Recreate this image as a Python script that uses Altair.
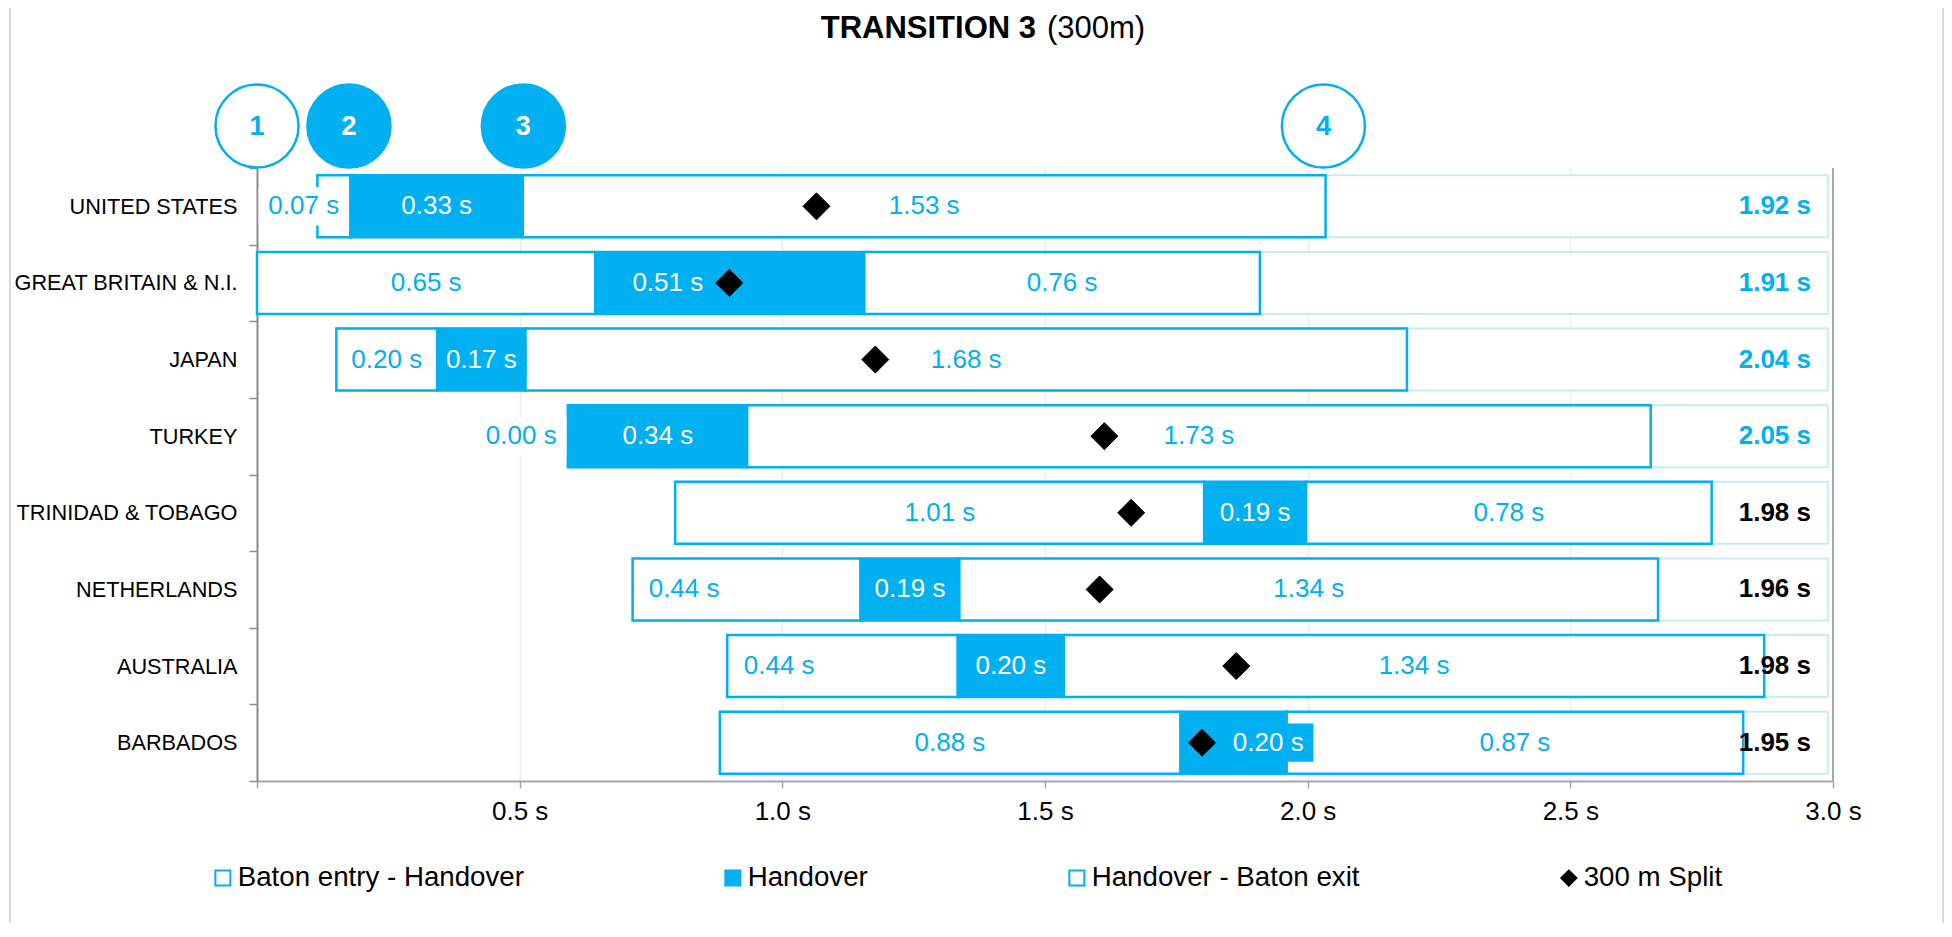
import altair as alt
import pandas as pd

BLUE = "#00b0f0"
FONT = "Liberation Sans"

# ---------------- data ----------------
countries = ["UNITED STATES", "GREAT BRITAIN & N.I.", "JAPAN", "TURKEY",
             "TRINIDAD & TOBAGO", "NETHERLANDS", "AUSTRALIA", "BARBADOS"]
# positions on the time axis (s)
baton_entry = [0.115, 0.000, 0.151, 0.592, 0.796, 0.715, 0.895, 0.881]
handover_start = [0.178, 0.644, 0.343, 0.592, 1.803, 1.149, 1.334, 1.758]
handover_end = [0.506, 1.156, 0.511, 0.933, 1.997, 1.337, 1.536, 1.960]
baton_exit = [2.034, 1.909, 2.189, 2.653, 2.769, 2.667, 2.869, 2.829]
split_300m = [1.065, 0.899, 1.177, 1.613, 1.664, 1.604, 1.864, 1.799]
# printed durations (s)
entry_handover_s = [0.07, 0.65, 0.20, 0.00, 1.01, 0.44, 0.44, 0.88]
handover_s = [0.33, 0.51, 0.17, 0.34, 0.19, 0.19, 0.20, 0.20]
handover_exit_s = [1.53, 0.76, 1.68, 1.73, 0.78, 1.34, 1.34, 0.87]
total_s = [1.92, 1.91, 2.04, 2.05, 1.98, 1.96, 1.98, 1.95]
# where the duration labels sit (s)
entry_label_at = [0.089, 0.322, 0.247, 0.503, 1.300, 0.813, 0.994, 1.319]
handover_label_at = [0.342, 0.782, 0.427, 0.763, 1.900, 1.243, 1.435, 1.925]
highlighted = countries[:4]
zone_end = 2.99
markers = ["1", "2", "3", "4"]
marker_at = [0.0, 0.175, 0.507, 2.03]
marker_filled = [False, True, True, False]
legend_labels = ["Baton entry - Handover", "Handover", "Handover - Baton exit", "300 m Split"]
x_ticks = [0, 0.5, 1.0, 1.5, 2.0, 2.5, 3.0]
title_main = "TRANSITION 3"
title_note = "(300m)"

# ---------------- tables ----------------
seg_rows, lab_rows, box_rows = [], [], []
box_half = 0.086
for i, c in enumerate(countries):
    seg_rows.append(dict(country=c, seg=legend_labels[0], x0=baton_entry[i], x1=handover_start[i]))
    seg_rows.append(dict(country=c, seg=legend_labels[1], x0=handover_start[i], x1=handover_end[i]))
    seg_rows.append(dict(country=c, seg=legend_labels[2], x0=handover_end[i], x1=baton_exit[i]))
    lab_rows.append(dict(country=c, x=entry_label_at[i], text=f"{entry_handover_s[i]:.2f} s", kind="entry"))
    lab_rows.append(dict(country=c, x=handover_label_at[i], text=f"{handover_s[i]:.2f} s", kind="handover"))
    lab_rows.append(dict(country=c, x=(handover_end[i] + baton_exit[i]) / 2,
                         text=f"{handover_exit_s[i]:.2f} s", kind="exit"))
    box_rows.append(dict(country=c, x0=entry_label_at[i] - box_half, x1=entry_label_at[i] + box_half, kind="entry"))
    box_rows.append(dict(country=c, x0=handover_label_at[i] - box_half, x1=handover_label_at[i] + box_half,
                         kind="handover"))

seg_df = pd.DataFrame(seg_rows)
lab_df = pd.DataFrame(lab_rows)
box_df = pd.DataFrame(box_rows)
zone_df = pd.DataFrame({"country": countries, "x0": baton_entry, "x1": [zone_end] * len(countries)})
split_df = pd.DataFrame({"country": countries, "x": split_300m, "seg": [legend_labels[3]] * len(countries)})
tot_df = pd.DataFrame({"country": countries, "tx": [x_ticks[-1]] * len(countries),
                       "text": [f"{v:.2f} s" for v in total_s],
                       "hl": [c in highlighted for c in countries]})
mark_df = pd.DataFrame({"x": marker_at, "text": markers, "filled": marker_filled})
edge_df = pd.DataFrame({"tx": [x_ticks[-1]]})

# ---------------- scales / axes ----------------
W, H = 1576, 613
xscale = alt.Scale(domain=[x_ticks[0], x_ticks[-1]], nice=False, zero=False)
yscale = alt.Scale(domain=countries, paddingInner=0, paddingOuter=0)
xaxis = alt.Axis(values=x_ticks, title=None, grid=True, gridColor="#ececec", gridWidth=1.5,
                 labelExpr="datum.value == 0 ? '' : format(datum.value, '.1f') + ' s'",
                 domainColor="#a6a6a6", domainWidth=2, tickColor="#a6a6a6", tickWidth=1.5,
                 tickSize=7, labelPadding=10, labelFontSize=26, labelColor="black", labelFlush=False)
yaxis = alt.Axis(title=None, grid=False, tickBand="extent", domainColor="#8c8c8c", domainWidth=2,
                 tickColor="#8c8c8c", tickWidth=1.5, tickSize=8, labelPadding=12,
                 labelFontSize=21.7, labelColor="black", labelLimit=400)


def X(field):
    return alt.X(f"{field}:Q", scale=xscale, axis=xaxis)


def X2(field):
    return alt.X2(f"{field}:Q")


def Y():
    return alt.Y("country:N", scale=yscale, axis=yaxis)


legend = alt.Legend(title=None, orient="none", legendX=-48, legendY=696, direction="horizontal",
                    columnPadding=195, labelFontSize=27.7, labelColor="black", labelOffset=1,
                    symbolSize=225, symbolStrokeWidth=2, padding=0, labelLimit=800)
fill_scale = alt.Scale(domain=legend_labels, range=["white", BLUE, "white", "black"])
stroke_scale = alt.Scale(domain=legend_labels, range=[BLUE, BLUE, BLUE, "black"])
shape_scale = alt.Scale(domain=legend_labels, range=["square", "square", "square", "diamond"])

# ---------------- layers ----------------
frame = alt.Chart(pd.DataFrame({"k": [0]})).mark_rect(
    fill="white", fillOpacity=0, stroke="#d9d9d9", strokeWidth=2
).encode(x=alt.value(-247), x2=alt.value(W + 110), y=alt.value(-161), y2=alt.value(H + 200))

zones = alt.Chart(zone_df).mark_bar(
    fill="white", stroke="#c8ebfa", strokeWidth=2, height=alt.RelativeBandSize(0.81)
).encode(x=X("x0"), x2=X2("x1"), y=Y())

bars = alt.Chart(seg_df).mark_bar(strokeWidth=2.5, height=alt.RelativeBandSize(0.81)).encode(
    x=X("x0"), x2=X2("x1"), y=Y(),
    fill=alt.Fill("seg:N", scale=fill_scale, legend=legend, title=None),
    stroke=alt.Stroke("seg:N", scale=stroke_scale, legend=legend, title=None),
)

boxes = alt.Chart(box_df).mark_bar(height=alt.RelativeBandSize(0.5), strokeWidth=0).encode(
    x=X("x0"), x2=X2("x1"), y=Y(),
    color=alt.condition("datum.kind == 'handover'", alt.value(BLUE), alt.value("white")),
)

diamonds = alt.Chart(split_df).mark_point(size=730, filled=True, opacity=1, strokeWidth=1).encode(
    x=X("x"), y=Y(),
    fill=alt.Fill("seg:N", scale=fill_scale, legend=legend, title=None),
    stroke=alt.Stroke("seg:N", scale=stroke_scale, legend=legend, title=None),
    shape=alt.Shape("seg:N", scale=shape_scale, legend=legend, title=None),
)

labels = alt.Chart(lab_df).mark_text(font=FONT, fontSize=26, baseline="middle", align="center").encode(
    x=X("x"), y=Y(), text="text:N",
    color=alt.condition("datum.kind == 'handover'", alt.value("white"), alt.value(BLUE)),
)

totals = alt.Chart(tot_df).mark_text(font=FONT, fontSize=26, fontWeight="bold", align="right",
                                     baseline="middle", dx=-22).encode(
    x=X("tx"), y=Y(), text="text:N",
    color=alt.condition("datum.hl", alt.value(BLUE), alt.value("black")),
)

edge = alt.Chart(edge_df).mark_rule(color="#a6a6a6", strokeWidth=2).encode(x=X("tx"))

circles = alt.Chart(mark_df).mark_point(shape="circle", size=6900, opacity=1, stroke=BLUE,
                                        strokeWidth=2.5).encode(
    x=X("x"), y=alt.value(-42),
    fill=alt.condition("datum.filled", alt.value(BLUE), alt.value("white")),
)
circle_nums = alt.Chart(mark_df).mark_text(font=FONT, fontSize=27, fontWeight="bold",
                                           baseline="middle", align="center", dy=1).encode(
    x=X("x"), y=alt.value(-42), text="text:N",
    color=alt.condition("datum.filled", alt.value("white"), alt.value(BLUE)),
)

title1 = alt.Chart(pd.DataFrame({"t": [title_main]})).mark_text(
    font=FONT, fontSize=31, fontWeight="bold", align="right", baseline="alphabetic", color="black"
).encode(x=alt.value(779), y=alt.value(-130), text="t:N")
title2 = alt.Chart(pd.DataFrame({"t": [title_note]})).mark_text(
    font=FONT, fontSize=31, align="left", baseline="alphabetic", color="black"
).encode(x=alt.value(790), y=alt.value(-130), text="t:N")

chart = alt.layer(
    frame, zones, edge, bars, boxes, diamonds, labels, totals, circles, circle_nums, title1, title2
).properties(
    width=W, height=H,
    autosize=alt.AutoSizeParams(type="none"),
    padding={"left": 249, "top": 160, "right": 111, "bottom": 142},
).configure(font=FONT).configure_view(stroke="transparent")

chart.save("out.html", embed_options={"renderer": "svg", "actions": False})
